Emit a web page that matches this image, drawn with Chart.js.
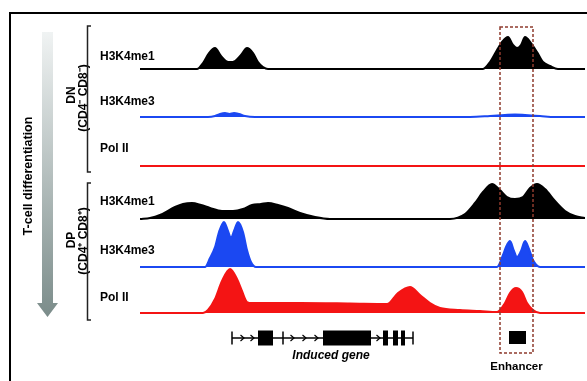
<!DOCTYPE html>
<html>
<head>
<meta charset="utf-8">
<script src="https://cdn.jsdelivr.net/npm/chart.js@4"></script>
<style>
  html, body { margin: 0; padding: 0; background: #fff; }
  #wrap { width: 587px; height: 381px; }
</style>
</head>
<body>
<div id="wrap"><canvas id="tracks" width="587" height="381"></canvas></div>
<script>
// genomic position (kb along the locus) and read signal for each track
const posDNme1 = [0, 11.4, 12.6, 13.8, 15, 16.2, 17.2, 18, 19, 20.2, 21.4, 22.6, 23.6, 24.6, 25.6,
                  68.6, 70, 71.4, 72.4, 73.6, 74.6, 75.4, 76.2, 77, 78.2, 79.4, 80.6, 82, 83.6, 89];
const sigDNme1 = [0, 0, 6, 16, 21, 13, 8, 7, 8, 14, 21, 16, 7, 2, 0,
                  0, 7, 19, 27, 32, 24, 21, 24, 32, 26, 17, 7, 3, 0, 0];

const posDNme3 = [0, 13.6, 15, 16, 17, 17.9, 18.8, 19.8, 21, 23, 66, 70, 73, 75, 77, 80, 83, 89];
const sigDNme3 = [0, 0, 1, 3, 4, 3, 4, 3, 1, 0, 0, 1, 2, 2.5, 2, 1, 0, 0];

const posDNpol = [0, 89];
const sigDNpol = [0, 0];

const posDPme1 = [0, 2, 4, 7, 8.6, 10.4, 12.2, 14, 16.4, 18.6, 20.6, 22.4, 24.2, 25.6, 27.6, 29.6, 32, 35, 38,
                  62, 65, 67, 68.6, 70.4, 72, 73.4, 75, 76.6, 78, 79.4, 81, 83, 85, 87, 89];
const sigDPme1 = [0, 1, 4, 12, 15, 16, 14, 11, 8, 8, 10, 14, 15, 16, 14, 11, 6, 2, 0,
                  0, 5, 16, 27, 35, 29, 22, 20, 22, 31, 35, 30, 18, 8, 3, 1];

const posDPme3 = [0, 13, 14, 15, 15.8, 16.8, 17.6, 18.2, 18.8, 19.6, 20.6, 21.4, 22.2, 23.2,
                  71.4, 72.6, 73.2, 74, 74.8, 75.4, 76.2, 77, 77.8, 78.6, 80, 89];
const sigDPme3 = [0, 0, 9, 20, 35, 45, 36, 29, 36, 45, 35, 17, 5, 0,
                  0, 12, 20, 26, 16, 10, 16, 26, 18, 7, 0, 0];

const posDPpol = [0, 12.6, 13.6, 15, 16.4, 18, 19.4, 20.4, 21.4, 22.4,
                  32, 42, 49.4, 51.6, 54, 56, 58, 60, 64, 68,
                  71.4, 73, 74, 75.2, 76.4, 77.4, 78.6, 80, 89];
const sigDPpol = [0, 0, 3, 14, 32, 44, 34, 22, 11, 10,
                  10, 9.5, 9, 20, 26, 18, 10, 5, 3, 2,
                  1, 10, 20, 25, 21, 10, 3, 0, 0];

const trackNames = ['H3K4me1', 'H3K4me3', 'Pol II', 'H3K4me1', 'H3K4me3', 'Pol II'];

// gene model and enhancer (kb)
const geneSpan = [18.4, 54.6];
const geneExons = [[23.6, 26.6], [36.6, 46.2], [48.6, 49.6], [50.6, 51.6], [52.2, 53]];
const geneTicks = [18.4, 28.6, 54.6];
const geneArrows = [20.8, 22.8, 30.8, 33.2, 35.6, 48];
const enhancerRegion = [72, 78.6];
const enhancerElement = [73.8, 77.2];

// layout
const areaTop = 20, areaBottom = 318;
const baselines = [69, 117, 166, 219, 267, 313];
const labelY = [57, 102, 149, 202, 251, 298];
const colors = ['#000000', '#1b48f2', '#f41414', '#000000', '#1b48f2', '#f41414'];
const FONT = '"Liberation Sans", Arial, sans-serif';

const tracks = [
    [posDNme1, sigDNme1], [posDNme3, sigDNme3], [posDNpol, sigDNpol],
    [posDPme1, sigDPme1], [posDPme3, sigDPme3], [posDPpol, sigDPpol]
];

const datasets = tracks.map(([pos, sig], k) => ({
    label: trackNames[k],
    data: pos.map((x, i) => ({ x, y: sig[i] })),
    yAxisID: 'y' + k,
    borderColor: colors[k],
    backgroundColor: colors[k],
    borderWidth: 2,
    pointRadius: 0,
    fill: 'origin',
    cubicInterpolationMode: 'monotone'
}));

const scales = {
    x: { type: 'linear', display: false, min: 0, max: 89 }
};
baselines.forEach((b, k) => {
    scales['y' + k] = { type: 'linear', display: false, min: b - areaBottom, max: b - areaTop };
});

function vtext(ctx, txt, cx, cy, font) {
    ctx.save();
    ctx.translate(cx, cy);
    ctx.rotate(-Math.PI / 2);
    ctx.font = font;
    ctx.textAlign = 'center';
    ctx.textBaseline = 'middle';
    ctx.fillText(txt, 0, 0);
    ctx.restore();
}

const overlay = {
    id: 'overlay',
    afterDraw(chart) {
        const ctx = chart.ctx;
        const xs = chart.scales.x;
        const px = v => xs.getPixelForValue(v);
        ctx.save();

        // frame
        ctx.strokeStyle = '#000';
        ctx.lineWidth = 2;
        ctx.beginPath();
        ctx.moveTo(10, 390); ctx.lineTo(10, 13); ctx.lineTo(595, 13);
        ctx.stroke();

        // differentiation arrow
        const g = ctx.createLinearGradient(0, 32, 0, 317);
        g.addColorStop(0, '#f0f3f3');
        g.addColorStop(1, '#7b8c8a');
        ctx.fillStyle = g;
        ctx.beginPath();
        ctx.moveTo(42, 32); ctx.lineTo(53, 32); ctx.lineTo(53, 303); ctx.lineTo(58, 303);
        ctx.lineTo(47.5, 317); ctx.lineTo(37, 303); ctx.lineTo(42, 303);
        ctx.closePath();
        ctx.fill();

        ctx.fillStyle = '#000';
        vtext(ctx, 'T-cell differentiation', 29, 176, 'bold 12.5px ' + FONT);
        vtext(ctx, 'DN', 72, 95, 'bold 12px ' + FONT);
        vtext(ctx, '(CD4⁻ CD8⁻)', 84, 98, 'bold 12px ' + FONT);
        vtext(ctx, 'DP', 72, 240, 'bold 12px ' + FONT);
        vtext(ctx, '(CD4⁺ CD8⁺)', 84, 241, 'bold 12px ' + FONT);

        // brackets
        ctx.strokeStyle = '#222';
        ctx.lineWidth = 1.5;
        [[26, 172], [183, 320]].forEach(([t, b]) => {
            ctx.beginPath();
            ctx.moveTo(91, t); ctx.lineTo(87.5, t); ctx.lineTo(87.5, b); ctx.lineTo(91, b);
            ctx.stroke();
        });

        // track labels
        ctx.font = 'bold 12px ' + FONT;
        ctx.textAlign = 'left';
        ctx.textBaseline = 'middle';
        trackNames.forEach((n, k) => ctx.fillText(n, 100, labelY[k]));

        // gene model
        const gy = 338;
        ctx.strokeStyle = '#000';
        ctx.lineWidth = 1.5;
        ctx.beginPath();
        ctx.moveTo(px(geneSpan[0]), gy); ctx.lineTo(px(geneSpan[1]), gy);
        ctx.stroke();
        geneTicks.forEach(t => {
            ctx.beginPath();
            ctx.moveTo(px(t), gy - 6.5); ctx.lineTo(px(t), gy + 6.5);
            ctx.stroke();
        });
        ctx.lineWidth = 1.2;
        geneArrows.forEach(a => {
            const ax = px(a);
            ctx.beginPath();
            ctx.moveTo(ax - 3.5, gy - 3); ctx.lineTo(ax, gy); ctx.lineTo(ax - 3.5, gy + 3);
            ctx.stroke();
        });
        ctx.fillStyle = '#000';
        geneExons.forEach(([s, e]) => {
            ctx.fillRect(px(s), gy - 7.5, px(e) - px(s), 15);
        });
        ctx.font = 'italic bold 12px ' + FONT;
        ctx.textAlign = 'center';
        ctx.fillText('Induced gene', 331, 356);

        // enhancer
        ctx.fillRect(px(enhancerElement[0]), 331, px(enhancerElement[1]) - px(enhancerElement[0]), 13);
        ctx.font = 'bold 11.5px ' + FONT;
        ctx.fillText('Enhancer', (px(enhancerRegion[0]) + px(enhancerRegion[1])) / 2, 367);
        ctx.strokeStyle = '#8e3b2e';
        ctx.lineWidth = 1.5;
        ctx.setLineDash([3, 2]);
        ctx.strokeRect(px(enhancerRegion[0]), 27, px(enhancerRegion[1]) - px(enhancerRegion[0]), 326);
        ctx.setLineDash([]);

        ctx.restore();
    }
};

new Chart(document.getElementById('tracks'), {
    type: 'line',
    data: { datasets },
    options: {
        responsive: false,
        animation: false,
        layout: { padding: { left: 140, right: 2, top: areaTop, bottom: 381 - areaBottom } },
        scales,
        plugins: {
            legend: { display: false },
            tooltip: { enabled: false }
        }
    },
    plugins: [overlay]
});
</script>
</body>
</html>
